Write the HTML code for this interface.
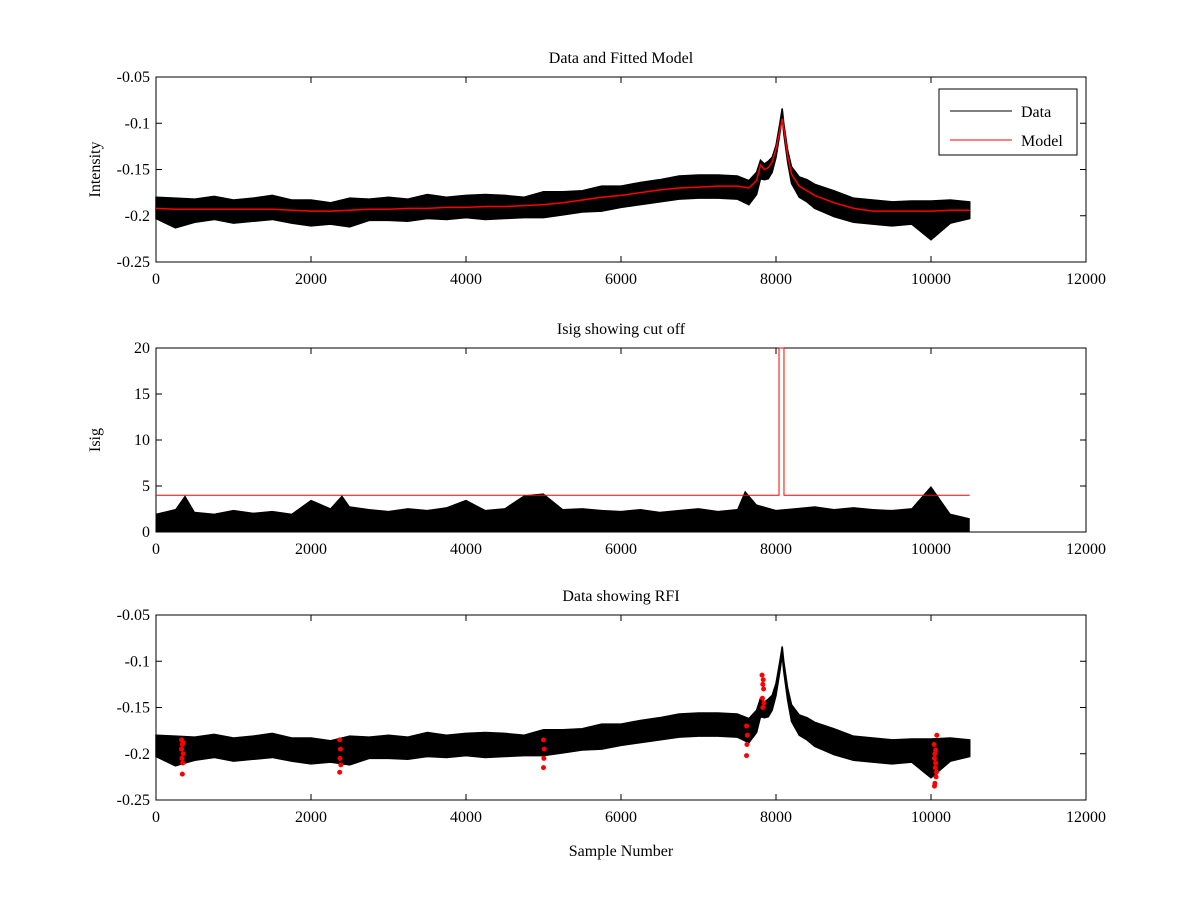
<!DOCTYPE html>
<html><head><meta charset="utf-8"><style>
body{margin:0;background:#fff}
svg text{font-family:"Liberation Serif",serif;font-size:16px}
</style></head><body>
<svg id="c" width="1200" height="900" xmlns="http://www.w3.org/2000/svg"></svg>
<script>
const dataX=[0,250,500,750,1000,1250,1500,1750,2000,2250,2500,2750,3000,3250,3500,3750,4000,4250,4500,4750,5000,5250,5500,5750,6000,6250,6500,6750,7000,7250,7500,7650,7750,7800,7850,7900,7950,8000,8050,8080,8100,8150,8200,8300,8400,8500,8750,9000,9250,9500,9750,10000,10250,10500];
const dataMid=[-0.190,-0.193,-0.193,-0.192,-0.193,-0.193,-0.192,-0.194,-0.195,-0.196,-0.194,-0.193,-0.192,-0.192,-0.191,-0.191,-0.190,-0.190,-0.190,-0.190,-0.188,-0.186,-0.184,-0.181,-0.178,-0.176,-0.172,-0.170,-0.168,-0.167,-0.167,-0.172,-0.165,-0.150,-0.152,-0.150,-0.145,-0.130,-0.105,-0.088,-0.105,-0.135,-0.155,-0.168,-0.172,-0.178,-0.185,-0.192,-0.195,-0.195,-0.195,-0.196,-0.193,-0.193];
const dataUp=[0.010,0.012,0.011,0.013,0.010,0.012,0.014,0.011,0.012,0.010,0.013,0.011,0.012,0.010,0.014,0.011,0.012,0.013,0.012,0.010,0.014,0.012,0.011,0.013,0.010,0.012,0.011,0.013,0.012,0.011,0.010,0.010,0.012,0.010,0.008,0.009,0.008,0.006,0.005,0.004,0.005,0.006,0.008,0.010,0.011,0.012,0.012,0.011,0.012,0.010,0.011,0.012,0.010,0.008];
const dataDown=[0.013,0.020,0.014,0.012,0.015,0.013,0.012,0.014,0.016,0.013,0.018,0.012,0.013,0.014,0.012,0.013,0.012,0.014,0.013,0.012,0.014,0.013,0.012,0.014,0.013,0.012,0.013,0.012,0.013,0.014,0.015,0.016,0.012,0.010,0.009,0.010,0.008,0.007,0.006,0.005,0.006,0.007,0.010,0.012,0.013,0.014,0.016,0.015,0.014,0.016,0.014,0.030,0.015,0.010];
const modelMid=[-0.192,-0.193,-0.193,-0.193,-0.193,-0.193,-0.193,-0.194,-0.195,-0.195,-0.194,-0.193,-0.193,-0.192,-0.192,-0.191,-0.191,-0.190,-0.190,-0.189,-0.188,-0.186,-0.183,-0.180,-0.178,-0.175,-0.172,-0.170,-0.169,-0.168,-0.168,-0.170,-0.162,-0.145,-0.150,-0.148,-0.142,-0.128,-0.108,-0.095,-0.105,-0.135,-0.155,-0.168,-0.173,-0.178,-0.186,-0.192,-0.195,-0.195,-0.195,-0.195,-0.194,-0.194];
const isigX=[0,250,375,500,750,1000,1250,1500,1750,2000,2250,2400,2500,2750,3000,3250,3500,3750,4000,4250,4500,4750,5000,5250,5500,5750,6000,6250,6500,6750,7000,7250,7500,7600,7750,8000,8250,8500,8750,9000,9250,9500,9750,10000,10250,10500];
const isigHi=[2.0,2.5,4.0,2.2,2.0,2.4,2.1,2.3,2.0,3.5,2.6,4.0,2.8,2.5,2.3,2.6,2.4,2.7,3.5,2.4,2.6,4.0,4.2,2.5,2.6,2.4,2.3,2.5,2.2,2.4,2.6,2.3,2.5,4.5,3.0,2.4,2.6,2.8,2.5,2.7,2.5,2.4,2.6,5.0,2.0,1.5];
const cutX=[0,8039,8039,8103,8103,10500];
const cutY=[4,4,20,20,4,4];
const rfiX=[330,340,350,335,345,330,350,340,2370,2380,2375,2385,2370,5000,5010,5005,5000,7620,7630,7625,7620,7820,7830,7840,7825,7835,7845,7830,10040,10050,10060,10070,10045,10055,10065,10050,10060,10075,10045];
const rfiY=[-0.185,-0.19,-0.20,-0.205,-0.21,-0.195,-0.188,-0.222,-0.185,-0.195,-0.205,-0.212,-0.22,-0.185,-0.195,-0.205,-0.215,-0.17,-0.18,-0.19,-0.202,-0.115,-0.125,-0.13,-0.14,-0.12,-0.145,-0.15,-0.19,-0.20,-0.21,-0.22,-0.205,-0.215,-0.225,-0.232,-0.196,-0.18,-0.235];
const xTicks=[0,2000,4000,6000,8000,10000,12000];
const yTicksA=[-0.05,-0.1,-0.15,-0.2,-0.25];
const yTicksB=[0,5,10,15,20];

const svg=document.getElementById('c');const NS='http://www.w3.org/2000/svg';
function mk(t,a,p){const e=document.createElementNS(NS,t);for(const k in a)e.setAttribute(k,a[k]);(p||svg).appendChild(e);return e;}
function panel(name,top,bot,ymin,ymax,yt,title,ylabel,xlabel){
  const g=mk('g',{});
  
  
  const L=156,R=1086;
  const sx=v=>L+v/12000*(R-L), sy=v=>bot-(v-ymin)/(ymax-ymin)*(bot-top);
  const f=mk('rect',{x:L,y:top,width:R-L,height:bot-top,fill:'#fff',stroke:'#000'},g);
  
  
  xTicks.forEach(t=>{const x=sx(t);mk('line',{x1:x,x2:x,y1:bot,y2:bot-6,stroke:'#000'},g);mk('line',{x1:x,x2:x,y1:top,y2:top+6,stroke:'#000'},g);
    const tx=mk('text',{x:x,y:bot+22,'text-anchor':'middle'},g);tx.textContent=t;
    
    });
  yt.forEach(t=>{const y=sy(t);mk('line',{x1:L,x2:L+6,y1:y,y2:y,stroke:'#000'},g);mk('line',{x1:R,x2:R-6,y1:y,y2:y,stroke:'#000'},g);
    const tx=mk('text',{x:L-6,y:y+5,'text-anchor':'end'},g);tx.textContent=t;
    
    });
  const tt=mk('text',{x:(L+R)/2,y:top-14,'text-anchor':'middle'},g);tt.textContent=title;
  
  
  const yl=mk('text',{x:0,y:0,'text-anchor':'middle',transform:`translate(${L-56},${(top+bot)/2}) rotate(-90)`},g);yl.textContent=ylabel;
  
  
  if(xlabel){const xl=mk('text',{x:(L+R)/2,y:bot+56,'text-anchor':'middle'},g);xl.textContent=xlabel;
    
    }
  return {g,sx,sy};
}
function band(p,name){
  let pts=[];dataX.forEach((x,i)=>pts.push(p.sx(x)+','+p.sy(dataMid[i]+dataUp[i])));
  for(let i=dataX.length-1;i>=0;i--)pts.push(p.sx(dataX[i])+','+p.sy(dataMid[i]-dataDown[i]));
  const e=mk('polygon',{points:pts.join(' '),fill:'#000',stroke:'#000','stroke-width':1.5},p.g);
  
  
}
const p1=panel('panel-data-model',77,262,-0.25,-0.05,yTicksA,'Data and Fitted Model','Intensity');
band(p1,'data-series');
const m=mk('polyline',{points:dataX.map((x,i)=>p1.sx(x)+','+p1.sy(modelMid[i])).join(' '),fill:'none',stroke:'#f00','stroke-width':1.5},p1.g);


const lg=mk('g',{},p1.g);


mk('rect',{x:939,y:89,width:138,height:66,fill:'#fff',stroke:'#000'},lg);
mk('line',{x1:950,x2:1012,y1:111,y2:111,stroke:'#000'},lg);
mk('line',{x1:950,x2:1012,y1:140,y2:140,stroke:'#f00'},lg);
const l1=mk('text',{x:1021,y:117},lg);l1.textContent='Data';


const l2=mk('text',{x:1021,y:146},lg);l2.textContent='Model';



const p2=panel('panel-isig',348,532,0,20,yTicksB,'Isig showing cut off','Isig');
let ip=[p2.sx(0)+','+p2.sy(0)];isigX.forEach((x,i)=>ip.push(p2.sx(x)+','+p2.sy(isigHi[i])));ip.push(p2.sx(10500)+','+p2.sy(0));
const ib=mk('polygon',{points:ip.join(' '),fill:'#000'},p2.g);


const cl=mk('polyline',{points:cutX.map((x,i)=>p2.sx(x)+','+p2.sy(cutY[i])).join(' '),fill:'none',stroke:'#f00','stroke-width':1},p2.g);



const p3=panel('panel-rfi',615,800,-0.25,-0.05,yTicksA,'Data showing RFI','','Sample Number');
band(p3,'data-series-rfi');
rfiX.forEach((x,i)=>{const c=mk('circle',{cx:p3.sx(x),cy:p3.sy(rfiY[i]),r:2.5,fill:'#f00'},p3.g);
  
  });
</script>
</body></html>
